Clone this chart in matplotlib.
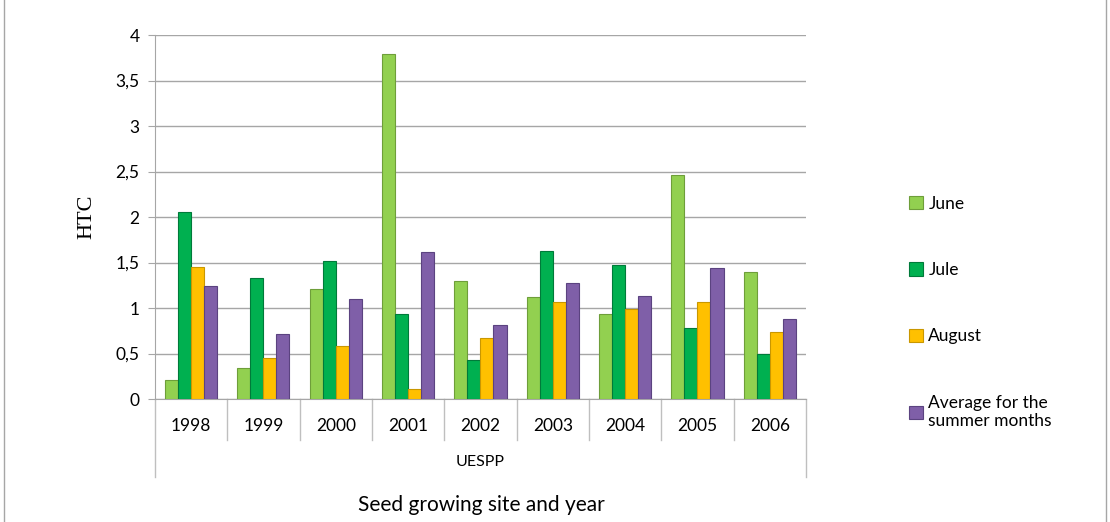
import matplotlib.pyplot as plt
import matplotlib.transforms as mtransforms
from matplotlib.patches import Rectangle
import numpy as np

plt.rcParams['font.family'] = ['Lato', 'DejaVu Sans']

# --------------------------------------------------
# DATOS
# --------------------------------------------------
years = ['1998', '1999', '2000', '2001', '2002', '2003', '2004', '2005', '2006']
june = [0.21, 0.34, 1.21, 3.79, 1.30, 1.12, 0.93, 2.46, 1.40]
jule = [2.05, 1.33, 1.52, 0.93, 0.43, 1.63, 1.47, 0.78, 0.49]
august = [1.45, 0.45, 0.58, 0.11, 0.67, 1.07, 0.99, 1.07, 0.74]
average = [1.24, 0.71, 1.10, 1.62, 0.81, 1.27, 1.13, 1.44, 0.88]

series_labels = ['June', 'Jule', 'August', 'Average for the\nsummer months']
colors = ['#92D050', '#00B050', '#FFC000', '#7F5FA8']
edges = ['#6E9E3A', '#007A3A', '#C99700', '#5B4380']
yticks = [0, 0.5, 1, 1.5, 2, 2.5, 3, 3.5, 4]
ytick_labels = ['0', '0,5', '1', '1,5', '2', '2,5', '3', '3,5', '4']

# --------------------------------------------------
# FIGURA
# --------------------------------------------------
fig = plt.figure(figsize=(11.1, 5.22), dpi=100)
ax = fig.add_axes([0.1396, 0.2356, 0.5865, 0.6973])

x = np.arange(len(years))
width = 0.18
all_series = [june, jule, august, average]
handles = []
for i, vals in enumerate(all_series):
    b = ax.bar(x + (i - 1.5) * width, vals, width, color=colors[i],
               edgecolor=edges[i], linewidth=0.8, label=series_labels[i], zorder=3)
    handles.append(b)

ax.set_xlim(-0.5, len(years) - 0.5)
ax.set_ylim(0, 4)
ax.set_yticks(yticks)
ax.set_yticklabels(ytick_labels, fontsize=12.5)
ax.yaxis.grid(True, color='#A6A6A6', linewidth=1, zorder=0)
ax.tick_params(axis='y', length=5, color='#A6A6A6', pad=6)
ax.set_xticks(x)
ax.set_xticklabels(years, fontsize=12.5)
ax.tick_params(axis='x', length=0, pad=14)

for s in ['top', 'right']:
    ax.spines[s].set_visible(False)
ax.spines['left'].set_color('#A6A6A6')
ax.spines['bottom'].set_color('#A6A6A6')

# separadores del eje de categorías
trans = mtransforms.blended_transform_factory(ax.transData, ax.transAxes)
for i in range(len(years) + 1):
    bottom = -0.214 if i in (0, len(years)) else -0.113
    ax.plot([i - 0.5, i - 0.5], [0, bottom], color='#BFBFBF', linewidth=1,
            transform=trans, clip_on=False)

ax.text(0.5, -0.173, 'UESPP', transform=ax.transAxes, ha='center', va='center',
        fontsize=11.5)
ax.set_ylabel('HTC', fontsize=16, family='Liberation Serif', labelpad=14)
fig.text(0.434, 0.033, 'Seed growing site and year', ha='center', va='center',
         fontsize=15)

fig.legend(handles=handles, loc='upper left', bbox_to_anchor=(0.805, 0.655),
           frameon=False, fontsize=12.5, handlelength=0.8, handleheight=0.8,
           handletextpad=0.3, labelspacing=2.9)

fig.patches.append(Rectangle((0.004, -0.01), 0.992, 1.02, transform=fig.transFigure,
                             fill=False, edgecolor='#A6A6A6', linewidth=1))

fig.savefig('out.png', dpi=100)
